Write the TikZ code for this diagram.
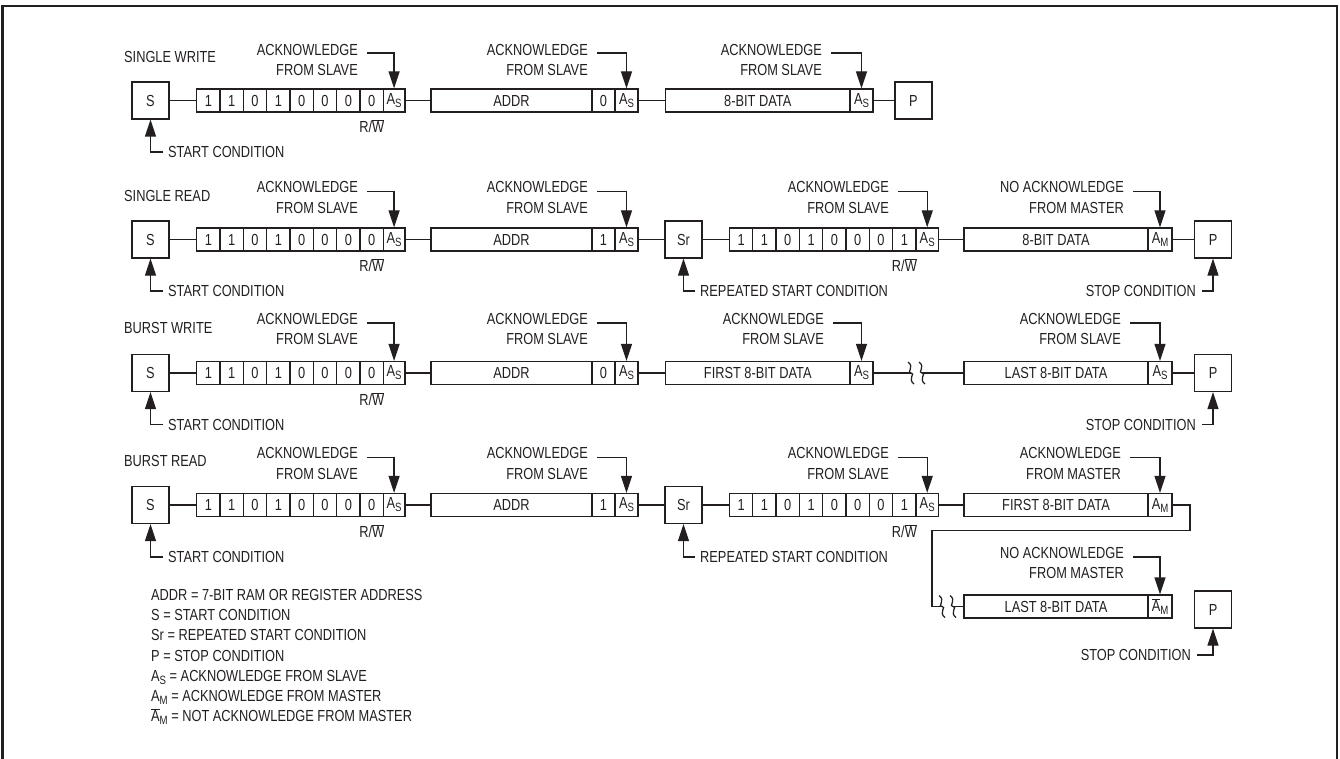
\documentclass[tikz,border=0pt]{standalone}
\usepackage{fontspec}
\usetikzlibrary{arrows.meta,calc}
\newfontfamily\labfont[FakeStretch=0.8]{Liberation Sans}
\newcommand\lab{\labfont\fontsize{16}{20.2}\selectfont}
\newcommand\lowsub[1]{\raisebox{-3pt}{\fontsize{12}{12}\selectfont #1}}
\newcommand\ackS{A\lowsub{S}}
\newcommand\ackM{A\lowsub{M}}
\newcommand\nackM{$\overline{\mbox{A}}$\lowsub{M}}
\newcommand\rwbar{R/$\overline{\mbox{W}}$}
\definecolor{ink}{HTML}{231F20}
\newcommand\bitrow[4]{%
  \foreach \b [count=\i] in {#4} {%
    \node[cell, minimum width=23.33pt] (#1\i) at ({#2+11.665+23.33*(\i-1)}, #3) {\b};
  }}
\tikzset{
  cell/.style={draw=ink, line width=1.25pt, minimum height=23pt, inner sep=0pt, font=\lab, text=ink},
  bigbox/.style={draw=ink, line width=1.25pt, minimum width=37pt, minimum height=37pt, inner sep=0pt, font=\lab, text=ink},
  lab/.style={font=\lab, inner sep=0pt, text=ink},
  acklab/.style={lab, align=right, anchor=east},
  conn/.style={draw=ink, line width=1.25pt},
  pointer/.style={conn, -{Triangle[length=17pt,width=11pt]}},
  brk/.pic={\draw[conn] (-3,-11) .. controls (4,-6) and (-5,0) .. (0,0) .. controls (5,0) and (-4,6) .. (3,11);}
}
\begin{document}
\begin{tikzpicture}[x=1pt,y=-1pt,line join=miter]
\useasboundingbox (0,0) rectangle (1340,759);
\draw[ink, line width=2.3pt] (2.5,760) -- (2.5,6) -- (1337,6) -- (1337,760);

% ---------------- Row 1: SINGLE WRITE ----------------
\node[lab, anchor=west] (t1) at (124,57) {SINGLE WRITE};
\node[bigbox] (s1) at (150.5,100.5) {S};
\bitrow{a1b}{196.7}{100.5}{1,1,0,1,0,0,0,0}
\node[cell, minimum width=21.6pt] (a1k) at (394.1,100.5) {\ackS};
\node[cell, minimum width=161pt] (d1) at (511.5,100.5) {ADDR};
\node[cell, minimum width=23pt] (d1r) at (603.5,100.5) {0};
\node[cell, minimum width=23pt] (d1k) at (626.5,100.5) {\ackS};
\node[cell, minimum width=184.5pt] (e1) at (757.75,100.5) {8-BIT DATA};
\node[cell, minimum width=23pt] (e1k) at (861.5,100.5) {\ackS};
\node[bigbox] (p1) at (913.5,100.5) {P};
\draw[conn] (s1) -- (a1b1);
\draw[conn] (a1k) -- (d1);
\draw[conn] (d1k) -- (e1);
\draw[conn] (e1k) -- (p1);
\node[acklab] (k11) at (358,60) {ACKNOWLEDGE\\FROM SLAVE};
\node[acklab] (k12) at (588,60) {ACKNOWLEDGE\\FROM SLAVE};
\node[acklab] (k13) at (822,60) {ACKNOWLEDGE\\FROM SLAVE};
\draw[pointer] ([shift={(9pt,7pt)}]k11.east) -| (a1k.north);
\draw[pointer] ([shift={(9pt,7pt)}]k12.east) -| (d1k.north);
\draw[pointer] ([shift={(9pt,7pt)}]k13.east) -| (e1k.north);
\node[lab] (rw1) at (371.7,126.5) {\rwbar};
\node[lab, anchor=west] (sc1) at (168,152) {START CONDITION};
\draw[pointer] ([xshift=-5pt]sc1.west) -| (s1.south);

% ---------------- Row 2: SINGLE READ ----------------
\node[lab, anchor=west] (t2) at (124,196) {SINGLE READ};
\node[bigbox] (s2) at (150.5,239.5) {S};
\bitrow{a2b}{196.7}{239.5}{1,1,0,1,0,0,0,0}
\node[cell, minimum width=21.6pt] (a2k) at (394.1,239.5) {\ackS};
\node[cell, minimum width=161pt] (d2) at (511.5,239.5) {ADDR};
\node[cell, minimum width=23pt] (d2r) at (603.5,239.5) {1};
\node[cell, minimum width=23pt] (d2k) at (626.5,239.5) {\ackS};
\node[bigbox] (sr2) at (683.5,239.5) {Sr};
\bitrow{b2b}{729.4}{239.5}{1,1,0,1,0,0,0,1}
\node[cell, minimum width=22.3pt] (b2k) at (927.2,239.5) {\ackS};
\node[cell, minimum width=184pt] (e2) at (1056,239.5) {8-BIT DATA};
\node[cell, minimum width=24pt] (e2k) at (1160,239.5) {\ackM};
\node[bigbox] (p2) at (1213,239.5) {P};
\draw[conn] (s2) -- (a2b1);
\draw[conn] (a2k) -- (d2);
\draw[conn] (d2k) -- (sr2);
\draw[conn] (sr2) -- (b2b1);
\draw[conn] (b2k) -- (e2);
\draw[conn] (e2k) -- (p2);
\node[acklab] (k21) at (358,197.5) {ACKNOWLEDGE\\FROM SLAVE};
\node[acklab] (k22) at (588,197.5) {ACKNOWLEDGE\\FROM SLAVE};
\node[acklab] (k23) at (889,197.5) {ACKNOWLEDGE\\FROM SLAVE};
\node[acklab] (k24) at (1124,197.5) {NO ACKNOWLEDGE\\FROM MASTER};
\draw[pointer] ([shift={(9pt,6pt)}]k21.east) -| (a2k.north);
\draw[pointer] ([shift={(9pt,6pt)}]k22.east) -| (d2k.north);
\draw[pointer] ([shift={(9pt,6pt)}]k23.east) -| (b2k.north);
\draw[pointer] ([shift={(9pt,6pt)}]k24.east) -| (e2k.north);
\node[lab] (rw2a) at (371.7,265.5) {\rwbar};
\node[lab] (rw2b) at (904.4,265.5) {\rwbar};
\node[lab, anchor=west] (sc2) at (168,291) {START CONDITION};
\draw[pointer] ([xshift=-5pt]sc2.west) -| (s2.south);
\node[lab, anchor=west] (rs2) at (700,291) {REPEATED START CONDITION};
\draw[pointer] ([xshift=-5pt]rs2.west) -| (sr2.south);
\node[lab, anchor=east] (sp2) at (1196,291) {STOP CONDITION};
\draw[pointer] ([xshift=6pt]sp2.east) -| (p2.south);

% ---------------- Row 3: BURST WRITE ----------------
\node[lab, anchor=west] (t3) at (124,328) {BURST WRITE};
\node[bigbox] (s3) at (150.5,373) {S};
\bitrow{a3b}{196.7}{373}{1,1,0,1,0,0,0,0}
\node[cell, minimum width=21.6pt] (a3k) at (394.1,373) {\ackS};
\node[cell, minimum width=161pt] (d3) at (511.5,373) {ADDR};
\node[cell, minimum width=23pt] (d3r) at (603.5,373) {0};
\node[cell, minimum width=23pt] (d3k) at (626.5,373) {\ackS};
\node[cell, minimum width=184.5pt] (e3) at (757.75,373) {FIRST 8-BIT DATA};
\node[cell, minimum width=23pt] (e3k) at (861.5,373) {\ackS};
\node[cell, minimum width=184pt] (f3) at (1056,373) {LAST 8-BIT DATA};
\node[cell, minimum width=24pt] (f3k) at (1160,373) {\ackS};
\node[bigbox] (p3) at (1213,373) {P};
\coordinate (brk3a) at (911,373);
\coordinate (brk3b) at (922,373);
\draw[conn] (s3) -- (a3b1);
\draw[conn] (a3k) -- (d3);
\draw[conn] (d3k) -- (e3);
\draw[conn] (e3k) -- (brk3a);
\pic at (911,373) {brk};
\pic at (922,373) {brk};
\draw[conn] (brk3b) -- (f3);
\draw[conn] (f3k) -- (p3);
\node[acklab] (k31) at (358,329) {ACKNOWLEDGE\\FROM SLAVE};
\node[acklab] (k32) at (588,329) {ACKNOWLEDGE\\FROM SLAVE};
\node[acklab] (k33) at (824,329) {ACKNOWLEDGE\\FROM SLAVE};
\node[acklab] (k34) at (1121,329) {ACKNOWLEDGE\\FROM SLAVE};
\draw[pointer] ([shift={(9pt,6pt)}]k31.east) -| (a3k.north);
\draw[pointer] ([shift={(9pt,6pt)}]k32.east) -| (d3k.north);
\draw[pointer] ([shift={(9pt,6pt)}]k33.east) -| (e3k.north);
\draw[pointer] ([shift={(9pt,6pt)}]k34.east) -| (f3k.north);
\node[lab] (rw3) at (371.7,399) {\rwbar};
\node[lab, anchor=west] (sc3) at (168,424.5) {START CONDITION};
\draw[pointer] ([xshift=-5pt]sc3.west) -| (s3.south);
\node[lab, anchor=east] (sp3) at (1196,424.5) {STOP CONDITION};
\draw[pointer] ([xshift=6pt]sp3.east) -| (p3.south);

% ---------------- Row 4: BURST READ ----------------
\node[lab, anchor=west] (t4) at (124,461) {BURST READ};
\node[bigbox] (s4) at (150.5,505) {S};
\bitrow{a4b}{196.7}{505}{1,1,0,1,0,0,0,0}
\node[cell, minimum width=21.6pt] (a4k) at (394.1,505) {\ackS};
\node[cell, minimum width=161pt] (d4) at (511.5,505) {ADDR};
\node[cell, minimum width=23pt] (d4r) at (603.5,505) {1};
\node[cell, minimum width=23pt] (d4k) at (626.5,505) {\ackS};
\node[bigbox] (sr4) at (683.5,505) {Sr};
\bitrow{b4b}{729.4}{505}{1,1,0,1,0,0,0,1}
\node[cell, minimum width=22.3pt] (b4k) at (927.2,505) {\ackS};
\node[cell, minimum width=184pt] (e4) at (1056,505) {FIRST 8-BIT DATA};
\node[cell, minimum width=24pt] (e4k) at (1160,505) {\ackM};
\node[cell, minimum width=184pt] (f4) at (1056,606.5) {LAST 8-BIT DATA};
\node[cell, minimum width=24pt] (f4k) at (1160,606.5) {\nackM};
\node[bigbox] (p4) at (1213,609.5) {P};
\draw[conn] (s4) -- (a4b1);
\draw[conn] (a4k) -- (d4);
\draw[conn] (d4k) -- (sr4);
\draw[conn] (sr4) -- (b4b1);
\draw[conn] (b4k) -- (e4);
\coordinate (wrapR) at (1190,530.7);
\coordinate (wrapL) at (932,530.7);
\coordinate (brk4a) at (942,606.5);
\coordinate (brk4b) at (953,606.5);
\draw[conn] (e4k.east) -| (wrapR) -- (wrapL) |- (brk4a);
\pic at (942,606.5) {brk};
\pic at (953,606.5) {brk};
\draw[conn] (brk4b) -- (f4);
\node[acklab] (k41) at (358,463.5) {ACKNOWLEDGE\\FROM SLAVE};
\node[acklab] (k42) at (588,463.5) {ACKNOWLEDGE\\FROM SLAVE};
\node[acklab] (k43) at (889,463.5) {ACKNOWLEDGE\\FROM SLAVE};
\node[acklab] (k44) at (1121,463.5) {ACKNOWLEDGE\\FROM MASTER};
\node[acklab] (k45) at (1124,563) {NO ACKNOWLEDGE\\FROM MASTER};
\draw[pointer] ([shift={(9pt,6pt)}]k41.east) -| (a4k.north);
\draw[pointer] ([shift={(9pt,6pt)}]k42.east) -| (d4k.north);
\draw[pointer] ([shift={(9pt,6pt)}]k43.east) -| (b4k.north);
\draw[pointer] ([shift={(9pt,6pt)}]k44.east) -| (e4k.north);
\draw[pointer] ([shift={(9pt,6pt)}]k45.east) -| (f4k.north);
\node[lab] (rw4a) at (371.7,531) {\rwbar};
\node[lab] (rw4b) at (904.4,531) {\rwbar};
\node[lab, anchor=west] (sc4) at (168,557) {START CONDITION};
\draw[pointer] ([xshift=-5pt]sc4.west) -| (s4.south);
\node[lab, anchor=west] (rs4) at (700,557) {REPEATED START CONDITION};
\draw[pointer] ([xshift=-5pt]rs4.west) -| (sr4.south);
\node[lab, anchor=east] (sp4) at (1191,655) {STOP CONDITION};
\draw[pointer] ([xshift=6pt]sp4.east) -| (p4.south);

% ---------------- Legend ----------------
\node[lab, anchor=north west, align=left] (leg) at (151,589.2) {ADDR = 7-BIT RAM OR REGISTER ADDRESS\\S = START CONDITION\\Sr = REPEATED START CONDITION\\P = STOP CONDITION\\\ackS{} = ACKNOWLEDGE FROM SLAVE\\\ackM{} = ACKNOWLEDGE FROM MASTER\\\nackM{} = NOT ACKNOWLEDGE FROM MASTER};
\end{tikzpicture}
\end{document}
